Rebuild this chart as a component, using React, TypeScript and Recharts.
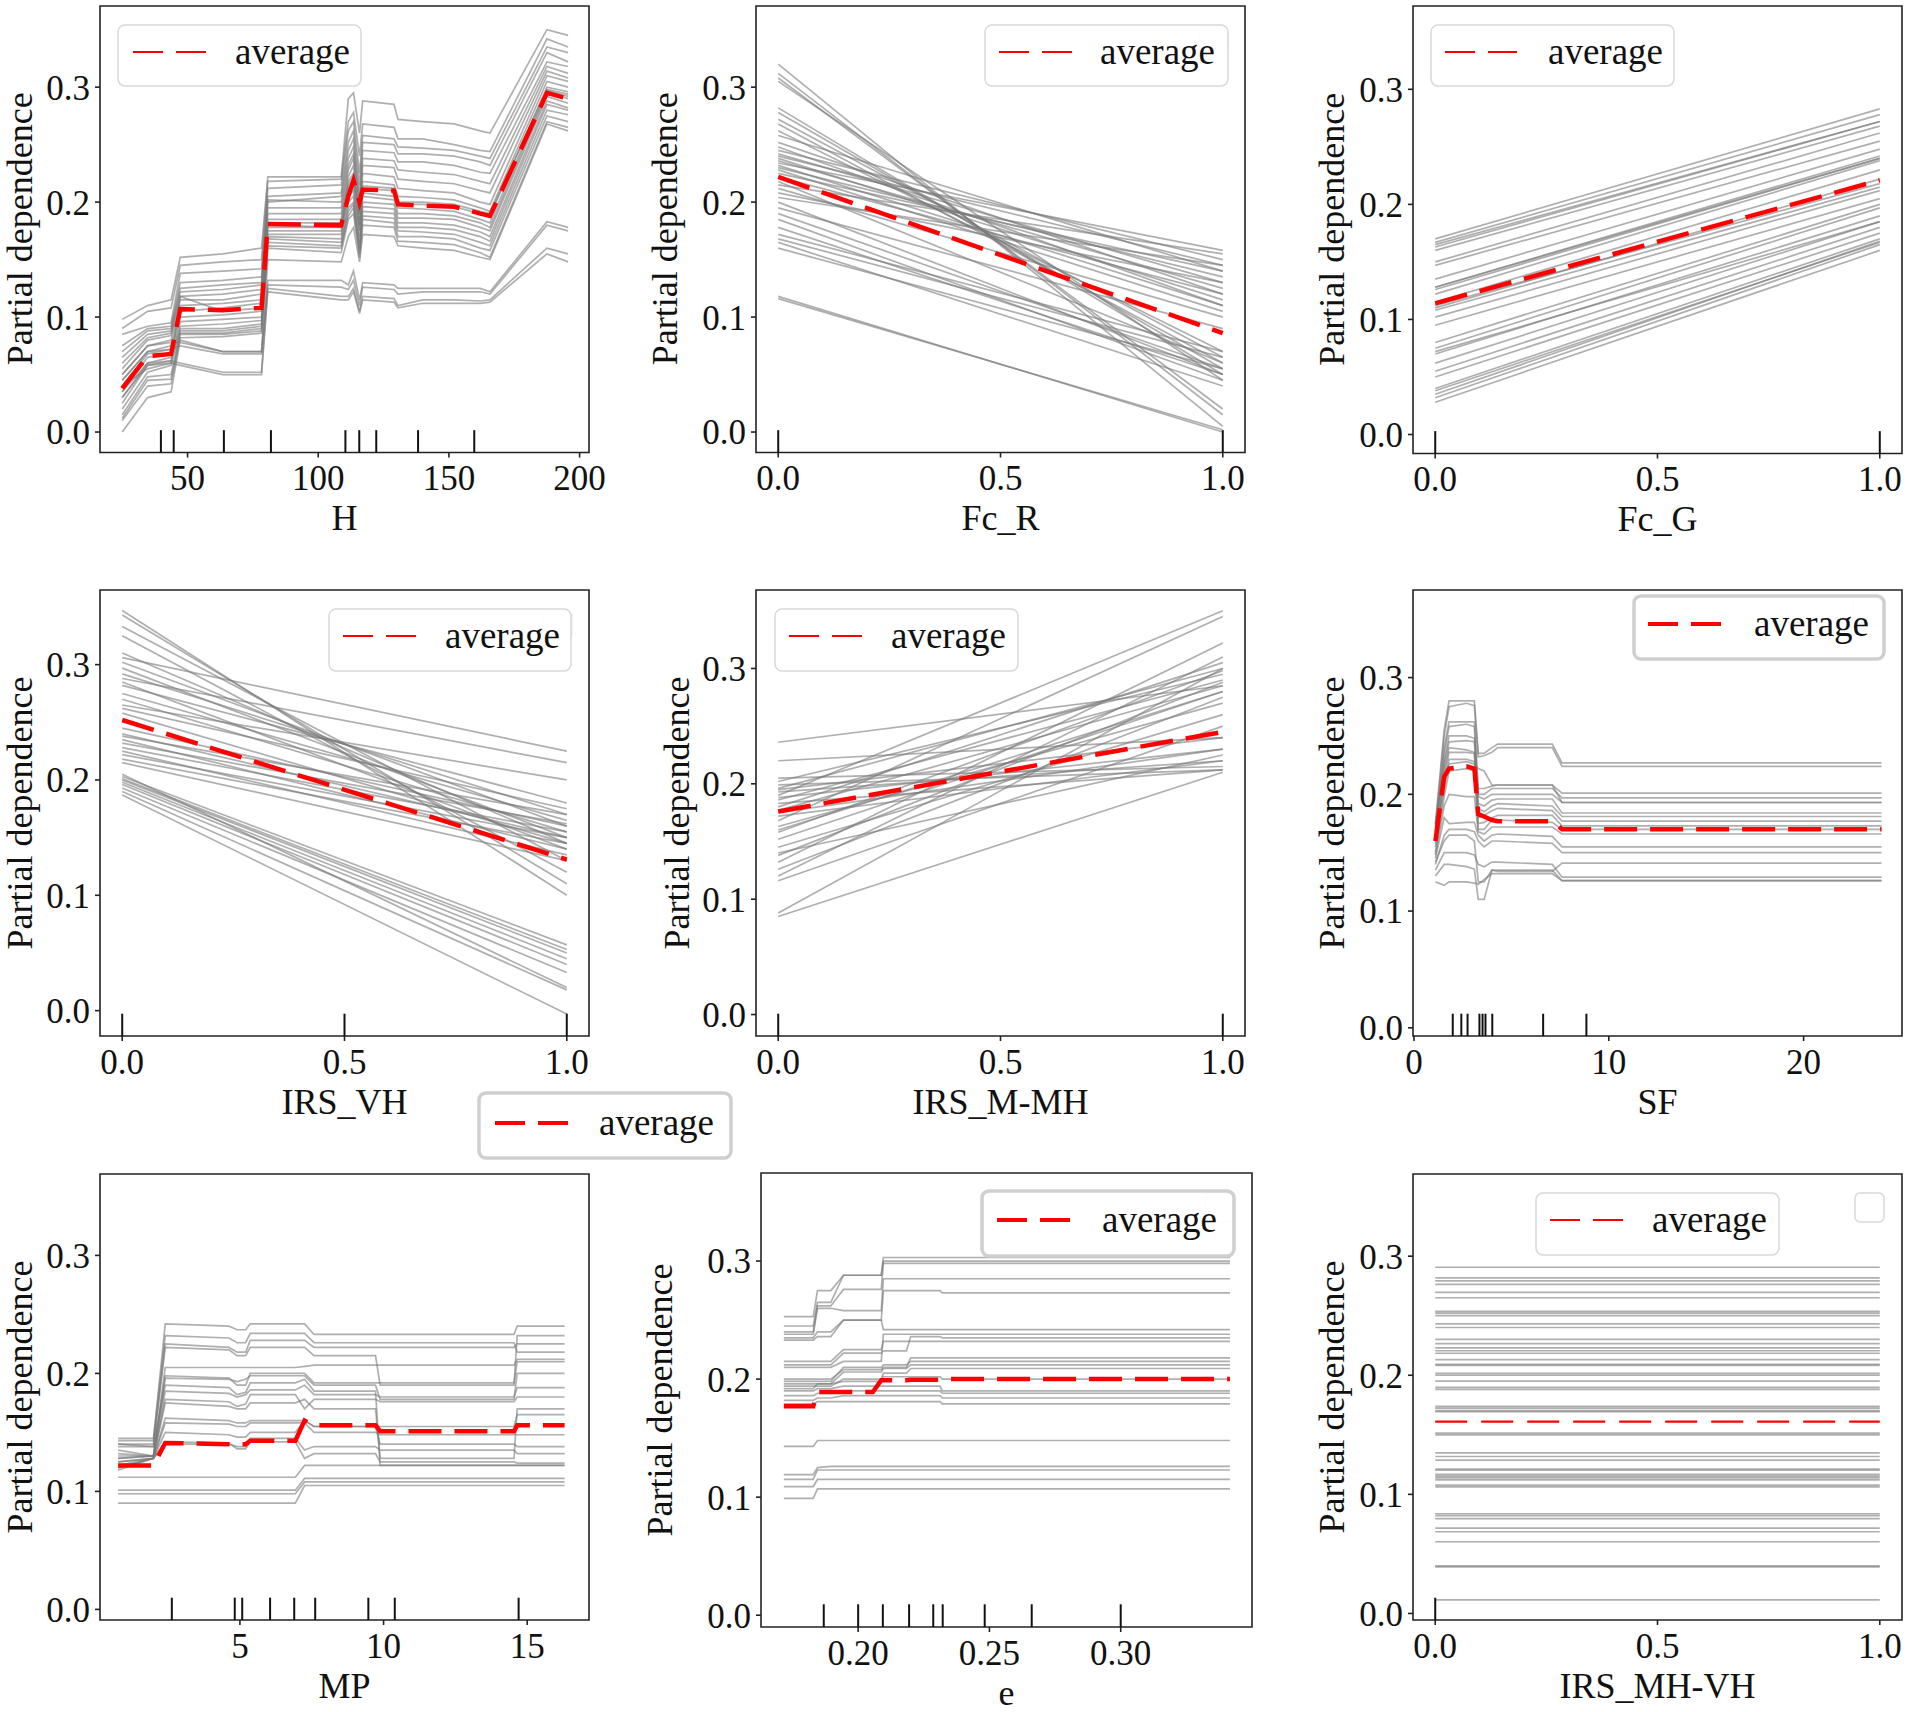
import React from 'react';
import { LineChart, Line, XAxis, YAxis, ReferenceLine, ReferenceArea } from 'recharts';

const FONT = "'Liberation Serif', 'Times New Roman', serif";
const ICE = '#7a7a7a';
const RED = '#ff0000';

// ---------- H ----------
const hGrid = [25, 34.7, 43.7, 47.2, 63.5, 78.3, 80.7, 108.8, 111.5, 113.5, 115.8, 117, 129, 130.5, 140, 152, 162, 165.7, 187.5, 195.6];
const hIce = [
  [0.098, 0.110, 0.115, 0.152, 0.155, 0.160, 0.222, 0.222, 0.290, 0.295, 0.260, 0.288, 0.285, 0.272, 0.270, 0.268, 0.262, 0.260, 0.350, 0.345],
  [0.090, 0.105, 0.108, 0.145, 0.148, 0.150, 0.218, 0.220, 0.270, 0.278, 0.240, 0.268, 0.265, 0.255, 0.255, 0.250, 0.245, 0.244, 0.342, 0.335],
  [0.085, 0.092, 0.095, 0.138, 0.140, 0.142, 0.212, 0.215, 0.262, 0.270, 0.225, 0.258, 0.255, 0.248, 0.247, 0.245, 0.240, 0.238, 0.335, 0.330],
  [0.075, 0.090, 0.092, 0.130, 0.132, 0.135, 0.205, 0.208, 0.252, 0.262, 0.215, 0.252, 0.250, 0.242, 0.242, 0.240, 0.235, 0.232, 0.330, 0.322],
  [0.070, 0.088, 0.090, 0.125, 0.128, 0.130, 0.200, 0.205, 0.245, 0.255, 0.205, 0.245, 0.243, 0.235, 0.235, 0.232, 0.226, 0.225, 0.322, 0.318],
  [0.065, 0.085, 0.088, 0.122, 0.124, 0.128, 0.202, 0.200, 0.238, 0.248, 0.200, 0.238, 0.236, 0.228, 0.226, 0.224, 0.218, 0.216, 0.318, 0.312],
  [0.060, 0.082, 0.086, 0.118, 0.120, 0.124, 0.195, 0.195, 0.232, 0.242, 0.195, 0.232, 0.230, 0.220, 0.218, 0.216, 0.210, 0.208, 0.314, 0.308],
  [0.055, 0.080, 0.084, 0.115, 0.115, 0.120, 0.190, 0.190, 0.228, 0.238, 0.190, 0.225, 0.222, 0.212, 0.210, 0.208, 0.200, 0.198, 0.310, 0.305],
  [0.050, 0.075, 0.080, 0.110, 0.112, 0.115, 0.185, 0.185, 0.222, 0.232, 0.185, 0.218, 0.215, 0.205, 0.204, 0.202, 0.195, 0.192, 0.305, 0.300],
  [0.045, 0.070, 0.075, 0.105, 0.108, 0.112, 0.182, 0.182, 0.218, 0.225, 0.180, 0.212, 0.210, 0.198, 0.198, 0.196, 0.190, 0.188, 0.300, 0.296],
  [0.040, 0.068, 0.072, 0.100, 0.102, 0.105, 0.178, 0.178, 0.212, 0.220, 0.178, 0.208, 0.205, 0.195, 0.194, 0.192, 0.185, 0.182, 0.297, 0.292],
  [0.035, 0.065, 0.068, 0.096, 0.098, 0.100, 0.175, 0.175, 0.208, 0.215, 0.175, 0.205, 0.202, 0.190, 0.190, 0.188, 0.182, 0.178, 0.295, 0.290],
  [0.030, 0.060, 0.065, 0.092, 0.094, 0.097, 0.172, 0.172, 0.205, 0.210, 0.170, 0.200, 0.198, 0.186, 0.186, 0.185, 0.178, 0.175, 0.292, 0.286],
  [0.025, 0.058, 0.062, 0.090, 0.090, 0.094, 0.170, 0.168, 0.200, 0.205, 0.165, 0.196, 0.194, 0.182, 0.182, 0.180, 0.174, 0.170, 0.288, 0.282],
  [0.020, 0.052, 0.058, 0.088, 0.088, 0.092, 0.168, 0.165, 0.195, 0.200, 0.160, 0.192, 0.190, 0.178, 0.178, 0.176, 0.170, 0.166, 0.285, 0.280],
  [0.015, 0.048, 0.050, 0.086, 0.086, 0.090, 0.165, 0.162, 0.192, 0.198, 0.158, 0.188, 0.186, 0.175, 0.174, 0.172, 0.165, 0.162, 0.280, 0.276],
  [0.012, 0.045, 0.046, 0.085, 0.085, 0.088, 0.162, 0.160, 0.188, 0.195, 0.155, 0.185, 0.182, 0.170, 0.170, 0.168, 0.160, 0.158, 0.275, 0.270],
  [0.010, 0.040, 0.042, 0.082, 0.083, 0.086, 0.160, 0.156, 0.185, 0.190, 0.152, 0.180, 0.178, 0.166, 0.165, 0.163, 0.156, 0.152, 0.270, 0.265],
  [0.000, 0.030, 0.035, 0.080, 0.070, 0.070, 0.150, 0.148, 0.170, 0.178, 0.148, 0.172, 0.170, 0.162, 0.160, 0.158, 0.152, 0.150, 0.268, 0.262],
  [0.040, 0.055, 0.060, 0.118, 0.105, 0.108, 0.180, 0.178, 0.215, 0.222, 0.190, 0.214, 0.212, 0.200, 0.200, 0.198, 0.192, 0.190, 0.298, 0.294],
  [0.050, 0.075, 0.078, 0.078, 0.070, 0.070, 0.132, 0.132, 0.128, 0.140, 0.115, 0.130, 0.128, 0.125, 0.125, 0.125, 0.125, 0.122, 0.183, 0.178],
  [0.045, 0.070, 0.072, 0.075, 0.068, 0.068, 0.128, 0.126, 0.124, 0.132, 0.110, 0.126, 0.124, 0.120, 0.122, 0.122, 0.122, 0.120, 0.180, 0.175],
  [0.035, 0.060, 0.062, 0.060, 0.052, 0.052, 0.125, 0.118, 0.118, 0.125, 0.105, 0.118, 0.116, 0.110, 0.115, 0.115, 0.114, 0.115, 0.160, 0.155],
  [0.030, 0.058, 0.060, 0.058, 0.050, 0.050, 0.122, 0.115, 0.115, 0.122, 0.103, 0.115, 0.113, 0.108, 0.112, 0.112, 0.112, 0.113, 0.155, 0.148],
];
const hAverage = [0.038, 0.066, 0.068, 0.107, 0.106, 0.108, 0.181, 0.180, 0.205, 0.219, 0.200, 0.211, 0.210, 0.198, 0.197, 0.196, 0.190, 0.188, 0.295, 0.290];
const hDeciles = [39.8, 44.7, 63.9, 81.9, 110.4, 115.7, 122.2, 138.2, 159.7];

// ---------- Fc_R ----------
const unitGrid = [0, 1];
const fcRStart = [0.320, 0.312, 0.308, 0.305, 0.282, 0.278, 0.272, 0.268, 0.262, 0.258, 0.252, 0.248, 0.245, 0.242, 0.240, 0.238, 0.236, 0.234, 0.232, 0.230, 0.228, 0.225, 0.222, 0.218, 0.215, 0.212, 0.208, 0.204, 0.200, 0.195, 0.190, 0.185, 0.178, 0.172, 0.168, 0.165, 0.160, 0.118, 0.116];
const fcREnd = [0.005, 0.015, 0.020, 0.045, 0.050, 0.055, 0.065, 0.060, 0.070, 0.140, 0.120, 0.110, 0.150, 0.130, 0.145, 0.115, 0.125, 0.158, 0.110, 0.135, 0.105, 0.140, 0.120, 0.060, 0.155, 0.100, 0.130, 0.145, 0.050, 0.090, 0.055, 0.045, 0.050, 0.070, 0.065, 0.040, 0.055, 0.000, 0.002];
const fcRAverage = [0.222, 0.086];

// ---------- Fc_G ----------
const fcGStart = [0.170, 0.167, 0.163, 0.160, 0.150, 0.147, 0.135, 0.128, 0.126, 0.122, 0.115, 0.110, 0.108, 0.102, 0.095, 0.080, 0.075, 0.070, 0.062, 0.055, 0.050, 0.040, 0.035, 0.032, 0.028, 0.165, 0.128, 0.072, 0.038, 0.112];
const fcGEnd = [0.283, 0.278, 0.272, 0.268, 0.262, 0.255, 0.248, 0.242, 0.240, 0.238, 0.230, 0.222, 0.215, 0.212, 0.205, 0.200, 0.197, 0.190, 0.185, 0.180, 0.175, 0.170, 0.168, 0.165, 0.160, 0.272, 0.240, 0.185, 0.167, 0.218];
const fcGAverage = [0.114, 0.221];

// ---------- IRS_VH ----------
const vhStart = [0.347, 0.343, 0.333, 0.325, 0.310, 0.306, 0.302, 0.297, 0.292, 0.288, 0.285, 0.282, 0.275, 0.270, 0.265, 0.262, 0.258, 0.245, 0.240, 0.235, 0.228, 0.225, 0.222, 0.218, 0.215, 0.232, 0.238, 0.203, 0.201, 0.200, 0.198, 0.196, 0.193, 0.205, 0.190, 0.187];
const vhEnd = [0.100, 0.110, 0.130, 0.120, 0.145, 0.225, 0.160, 0.150, 0.170, 0.215, 0.140, 0.180, 0.165, 0.155, 0.200, 0.175, 0.145, 0.160, 0.150, 0.140, 0.155, 0.135, 0.150, 0.145, 0.130, 0.162, 0.170, 0.057, 0.053, 0.050, 0.045, 0.040, 0.033, 0.020, 0.018, -0.003];
const vhAverage = [0.252, 0.131];
const vhDeciles = [0, 0.5, 1];

// ---------- IRS_M-MH ----------
const mmhStart = [0.236, 0.220, 0.205, 0.202, 0.199, 0.196, 0.193, 0.190, 0.188, 0.186, 0.183, 0.180, 0.177, 0.172, 0.168, 0.163, 0.158, 0.152, 0.145, 0.138, 0.132, 0.126, 0.120, 0.116, 0.088, 0.085, 0.175, 0.195, 0.140, 0.160];
const mmhEnd = [0.285, 0.240, 0.215, 0.295, 0.212, 0.300, 0.220, 0.350, 0.230, 0.290, 0.212, 0.305, 0.285, 0.220, 0.345, 0.270, 0.298, 0.280, 0.260, 0.288, 0.322, 0.275, 0.310, 0.250, 0.300, 0.210, 0.230, 0.240, 0.225, 0.280];
const mmhAverage = [0.176, 0.245];

// ---------- SF ----------
const sfGrid = [1.1, 1.55, 1.8, 2.7, 3.1, 3.3, 3.6, 4.0, 4.3, 7.1, 7.6, 24.0];
const sfIce = [
  [0.175, 0.255, 0.280, 0.280, 0.280, 0.235, 0.235, 0.240, 0.243, 0.243, 0.227, 0.227],
  [0.172, 0.250, 0.275, 0.278, 0.276, 0.232, 0.233, 0.236, 0.240, 0.240, 0.224, 0.224],
  [0.170, 0.240, 0.262, 0.262, 0.262, 0.205, 0.205, 0.207, 0.208, 0.208, 0.201, 0.201],
  [0.168, 0.235, 0.258, 0.260, 0.258, 0.200, 0.200, 0.205, 0.205, 0.205, 0.197, 0.197],
  [0.165, 0.228, 0.250, 0.250, 0.248, 0.198, 0.196, 0.200, 0.200, 0.200, 0.193, 0.193],
  [0.175, 0.225, 0.245, 0.246, 0.245, 0.192, 0.190, 0.195, 0.196, 0.196, 0.184, 0.184],
  [0.160, 0.220, 0.240, 0.238, 0.236, 0.188, 0.185, 0.190, 0.192, 0.190, 0.181, 0.181],
  [0.158, 0.215, 0.236, 0.236, 0.235, 0.180, 0.182, 0.186, 0.188, 0.186, 0.177, 0.177],
  [0.155, 0.205, 0.230, 0.230, 0.228, 0.175, 0.176, 0.180, 0.182, 0.182, 0.173, 0.173],
  [0.150, 0.198, 0.220, 0.222, 0.220, 0.170, 0.170, 0.178, 0.178, 0.176, 0.170, 0.170],
  [0.148, 0.190, 0.200, 0.198, 0.198, 0.168, 0.166, 0.172, 0.172, 0.172, 0.166, 0.166],
  [0.145, 0.180, 0.175, 0.176, 0.176, 0.165, 0.160, 0.165, 0.166, 0.164, 0.155, 0.155],
  [0.140, 0.165, 0.170, 0.170, 0.168, 0.160, 0.155, 0.160, 0.160, 0.158, 0.150, 0.150],
  [0.142, 0.160, 0.165, 0.165, 0.160, 0.125, 0.125, 0.135, 0.135, 0.135, 0.126, 0.126],
  [0.135, 0.150, 0.150, 0.150, 0.148, 0.140, 0.138, 0.142, 0.142, 0.140, 0.129, 0.129],
  [0.130, 0.140, 0.140, 0.138, 0.136, 0.110, 0.110, 0.135, 0.134, 0.134, 0.141, 0.141],
  [0.125, 0.122, 0.125, 0.125, 0.124, 0.123, 0.127, 0.132, 0.132, 0.132, 0.126, 0.126],
  [0.162, 0.210, 0.226, 0.228, 0.226, 0.222, 0.220, 0.208, 0.208, 0.208, 0.193, 0.193],
];
const sfAverage = [0.160, 0.215, 0.222, 0.224, 0.222, 0.183, 0.181, 0.178, 0.177, 0.177, 0.170, 0.170];
const sfDeciles = [1.99, 2.43, 2.75, 3.36, 3.52, 3.67, 4.02, 6.63, 8.85];

// ---------- MP ----------
const mpGrid = [0.76, 1.99, 2.4, 4.62, 4.9, 5.2, 5.36, 6.93, 7.25, 7.58, 9.72, 9.88, 14.54, 14.65, 16.3];
const mpIce = [
  [0.143, 0.143, 0.242, 0.240, 0.237, 0.237, 0.242, 0.242, 0.242, 0.233, 0.233, 0.233, 0.233, 0.240, 0.240],
  [0.140, 0.140, 0.225, 0.222, 0.218, 0.218, 0.228, 0.228, 0.228, 0.222, 0.222, 0.222, 0.222, 0.225, 0.225],
  [0.138, 0.138, 0.222, 0.220, 0.215, 0.215, 0.222, 0.222, 0.222, 0.215, 0.215, 0.190, 0.190, 0.232, 0.232],
  [0.135, 0.130, 0.205, 0.205, 0.205, 0.205, 0.205, 0.205, 0.206, 0.207, 0.207, 0.207, 0.207, 0.212, 0.212],
  [0.132, 0.130, 0.198, 0.196, 0.190, 0.190, 0.200, 0.200, 0.200, 0.192, 0.192, 0.192, 0.192, 0.210, 0.210],
  [0.130, 0.130, 0.196, 0.195, 0.193, 0.195, 0.198, 0.198, 0.198, 0.190, 0.190, 0.178, 0.178, 0.200, 0.200],
  [0.128, 0.130, 0.185, 0.183, 0.180, 0.182, 0.186, 0.186, 0.190, 0.182, 0.182, 0.180, 0.180, 0.188, 0.188],
  [0.128, 0.130, 0.178, 0.176, 0.172, 0.174, 0.182, 0.182, 0.170, 0.178, 0.178, 0.176, 0.176, 0.180, 0.180],
  [0.125, 0.128, 0.175, 0.172, 0.170, 0.170, 0.175, 0.175, 0.178, 0.170, 0.170, 0.128, 0.128, 0.170, 0.170],
  [0.125, 0.128, 0.162, 0.160, 0.158, 0.158, 0.160, 0.160, 0.160, 0.155, 0.155, 0.155, 0.155, 0.165, 0.165],
  [0.120, 0.128, 0.158, 0.157, 0.155, 0.155, 0.158, 0.158, 0.158, 0.150, 0.150, 0.148, 0.148, 0.148, 0.148],
  [0.120, 0.128, 0.150, 0.148, 0.146, 0.146, 0.150, 0.150, 0.160, 0.155, 0.155, 0.140, 0.140, 0.138, 0.138],
  [0.118, 0.128, 0.140, 0.140, 0.138, 0.138, 0.145, 0.145, 0.135, 0.138, 0.138, 0.135, 0.135, 0.132, 0.132],
  [0.122, 0.128, 0.142, 0.141, 0.136, 0.136, 0.142, 0.142, 0.128, 0.132, 0.132, 0.125, 0.125, 0.124, 0.124],
  [0.112, 0.112, 0.112, 0.112, 0.112, 0.112, 0.112, 0.112, 0.122, 0.122, 0.122, 0.122, 0.122, 0.122, 0.122],
  [0.101, 0.101, 0.101, 0.101, 0.101, 0.101, 0.101, 0.101, 0.111, 0.111, 0.111, 0.111, 0.111, 0.111, 0.111],
  [0.098, 0.098, 0.098, 0.098, 0.098, 0.098, 0.098, 0.098, 0.108, 0.108, 0.108, 0.108, 0.108, 0.108, 0.108],
  [0.090, 0.090, 0.090, 0.090, 0.090, 0.090, 0.090, 0.090, 0.105, 0.105, 0.105, 0.105, 0.105, 0.105, 0.105],
  [0.145, 0.145, 0.232, 0.230, 0.226, 0.226, 0.234, 0.234, 0.234, 0.226, 0.226, 0.226, 0.226, 0.218, 0.218],
  [0.140, 0.138, 0.190, 0.188, 0.182, 0.184, 0.192, 0.192, 0.195, 0.185, 0.185, 0.122, 0.122, 0.122, 0.122],
];
const mpAverage = [0.122, 0.122, 0.141, 0.140, 0.140, 0.140, 0.143, 0.143, 0.160, 0.156, 0.156, 0.151, 0.151, 0.156, 0.156];
const mpDeciles = [2.63, 4.82, 5.08, 6.05, 6.89, 7.62, 9.47, 10.39, 14.7];

// ---------- e ----------
const eGrid = [0.1717, 0.1829, 0.1845, 0.1896, 0.1944, 0.2056, 0.2088, 0.2096, 0.2184, 0.22, 0.2312, 0.232, 0.3416];
const eIce = [
  [0.253, 0.253, 0.275, 0.275, 0.288, 0.288, 0.288, 0.303, 0.303, 0.303, 0.303, 0.303, 0.303],
  [0.245, 0.245, 0.265, 0.265, 0.288, 0.288, 0.288, 0.300, 0.300, 0.300, 0.300, 0.300, 0.300],
  [0.240, 0.240, 0.262, 0.262, 0.276, 0.276, 0.276, 0.298, 0.298, 0.298, 0.298, 0.298, 0.298],
  [0.238, 0.238, 0.260, 0.260, 0.258, 0.258, 0.258, 0.285, 0.285, 0.285, 0.285, 0.285, 0.285],
  [0.235, 0.235, 0.240, 0.240, 0.250, 0.250, 0.250, 0.275, 0.275, 0.275, 0.275, 0.273, 0.273],
  [0.233, 0.233, 0.236, 0.236, 0.250, 0.250, 0.250, 0.242, 0.242, 0.242, 0.242, 0.242, 0.242],
  [0.212, 0.212, 0.212, 0.212, 0.222, 0.222, 0.222, 0.224, 0.224, 0.236, 0.236, 0.235, 0.235],
  [0.210, 0.210, 0.210, 0.210, 0.215, 0.215, 0.215, 0.238, 0.238, 0.238, 0.238, 0.238, 0.238],
  [0.215, 0.215, 0.215, 0.215, 0.225, 0.225, 0.225, 0.232, 0.232, 0.232, 0.232, 0.232, 0.232],
  [0.200, 0.200, 0.200, 0.200, 0.208, 0.208, 0.208, 0.210, 0.210, 0.218, 0.218, 0.218, 0.218],
  [0.198, 0.198, 0.198, 0.198, 0.210, 0.210, 0.210, 0.212, 0.212, 0.215, 0.215, 0.215, 0.215],
  [0.196, 0.196, 0.196, 0.196, 0.206, 0.206, 0.206, 0.209, 0.209, 0.212, 0.212, 0.212, 0.212],
  [0.194, 0.194, 0.194, 0.194, 0.200, 0.200, 0.200, 0.205, 0.205, 0.209, 0.209, 0.209, 0.209],
  [0.192, 0.192, 0.196, 0.196, 0.198, 0.198, 0.198, 0.202, 0.202, 0.202, 0.202, 0.200, 0.200],
  [0.190, 0.190, 0.192, 0.192, 0.194, 0.194, 0.194, 0.194, 0.194, 0.194, 0.194, 0.190, 0.190],
  [0.186, 0.186, 0.188, 0.188, 0.190, 0.190, 0.190, 0.190, 0.190, 0.190, 0.190, 0.188, 0.188],
  [0.182, 0.182, 0.184, 0.184, 0.186, 0.186, 0.186, 0.186, 0.186, 0.186, 0.186, 0.184, 0.184],
  [0.179, 0.179, 0.181, 0.181, 0.181, 0.181, 0.181, 0.181, 0.181, 0.181, 0.181, 0.179, 0.179],
  [0.143, 0.143, 0.148, 0.148, 0.148, 0.148, 0.148, 0.148, 0.148, 0.148, 0.148, 0.148, 0.148],
  [0.119, 0.119, 0.125, 0.126, 0.126, 0.126, 0.126, 0.126, 0.126, 0.126, 0.126, 0.126, 0.126],
  [0.115, 0.115, 0.123, 0.123, 0.123, 0.123, 0.123, 0.123, 0.123, 0.123, 0.123, 0.123, 0.123],
  [0.109, 0.109, 0.115, 0.115, 0.115, 0.115, 0.115, 0.115, 0.115, 0.115, 0.115, 0.115, 0.115],
  [0.099, 0.099, 0.107, 0.107, 0.107, 0.107, 0.107, 0.107, 0.107, 0.107, 0.107, 0.107, 0.107],
];
const eAverage = [0.177, 0.177, 0.189, 0.189, 0.189, 0.189, 0.199, 0.199, 0.199, 0.1995, 0.1995, 0.2, 0.2];
const eDeciles = [0.1869, 0.2, 0.2094, 0.2194, 0.2286, 0.2322, 0.2482, 0.2661, 0.3];

// ---------- IRS_MH-VH ----------
const mhvhLevels = [0.2907, 0.2817, 0.2793, 0.2763, 0.2696, 0.2651, 0.2537, 0.2522, 0.2501, 0.2432, 0.2401, 0.2302, 0.2266, 0.223, 0.2206, 0.2185, 0.2131, 0.2092, 0.2083, 0.2017, 0.2001, 0.195, 0.1899, 0.1881, 0.1739, 0.1724, 0.1703, 0.1694, 0.1514, 0.1499, 0.1348, 0.1318, 0.1288, 0.1213, 0.1204, 0.1168, 0.1153, 0.1138, 0.1122, 0.1077, 0.1062, 0.0837, 0.0822, 0.0797, 0.0716, 0.0686, 0.0602, 0.04, 0.0391, 0.0114];
const mhvhAverage = [0.161, 0.161];

const pairs = (a: number[], b: number[]) => a.map((v, i) => [v, b[i]]);
const fmt1 = (v: number) => v.toFixed(1);
const fmt2 = (v: number) => v.toFixed(2);
const fmt0 = (v: number) => String(v);

type Spec = {
  label: string;
  frame: [number, number, number, number];
  xDomain: [number, number];
  yDomain: [number, number];
  xTicks: number[];
  xFmt: (v: number) => string;
  grid: number[];
  ice: number[][];
  average: number[];
  deciles: number[];
  avgWidth: number;
  avgDash: string;
  yLabelX: number;
};

const panels: Spec[] = [
  { label: 'H', frame: [100, 5.5, 589, 452], xDomain: [16.5, 203.6], yDomain: [-0.0178, 0.3706], xTicks: [50, 100, 150, 200], xFmt: fmt0, grid: hGrid, ice: hIce, average: hAverage, deciles: hDeciles, avgWidth: 4.5, avgDash: '33 13', yLabelX: 20 },
  { label: 'Fc_R', frame: [756, 5.5, 1245, 452], xDomain: [-0.05, 1.05], yDomain: [-0.0178, 0.3706], xTicks: [0, 0.5, 1], xFmt: fmt1, grid: unitGrid, ice: pairs(fcRStart, fcREnd), average: fcRAverage, deciles: [0, 1], avgWidth: 4.5, avgDash: '33 13', yLabelX: 665 },
  { label: 'Fc_G', frame: [1413, 5.5, 1902, 453], xDomain: [-0.05, 1.05], yDomain: [-0.0165, 0.3724], xTicks: [0, 0.5, 1], xFmt: fmt1, grid: unitGrid, ice: pairs(fcGStart, fcGEnd), average: fcGAverage, deciles: [0, 1], avgWidth: 4.5, avgDash: '33 13', yLabelX: 1332 },
  { label: 'IRS_VH', frame: [100, 590, 589, 1036], xDomain: [-0.05, 1.05], yDomain: [-0.022, 0.3647], xTicks: [0, 0.5, 1], xFmt: fmt1, grid: unitGrid, ice: pairs(vhStart, vhEnd), average: vhAverage, deciles: vhDeciles, avgWidth: 4.5, avgDash: '33 13', yLabelX: 20 },
  { label: 'IRS_M-MH', frame: [756, 590, 1245, 1036], xDomain: [-0.05, 1.05], yDomain: [-0.0186, 0.368], xTicks: [0, 0.5, 1], xFmt: fmt1, grid: unitGrid, ice: pairs(mmhStart, mmhEnd), average: mmhAverage, deciles: [0, 1], avgWidth: 4.5, avgDash: '33 13', yLabelX: 677 },
  { label: 'SF', frame: [1413, 590, 1902, 1036], xDomain: [-0.05, 25.05], yDomain: [-0.007, 0.375], xTicks: [0, 10, 20], xFmt: fmt0, grid: sfGrid, ice: sfIce, average: sfAverage, deciles: sfDeciles, avgWidth: 4.5, avgDash: '33 13', yLabelX: 1332 },
  { label: 'MP', frame: [100, 1174, 589, 1620], xDomain: [0.13, 17.15], yDomain: [-0.009, 0.369], xTicks: [5, 10, 15], xFmt: fmt0, grid: mpGrid, ice: mpIce, average: mpAverage, deciles: mpDeciles, avgWidth: 4.5, avgDash: '33 13', yLabelX: 20 },
  { label: 'e', frame: [761, 1173, 1252, 1627], xDomain: [0.163, 0.35], yDomain: [-0.01, 0.3746], xTicks: [0.2, 0.25, 0.3], xFmt: fmt2, grid: eGrid, ice: eIce, average: eAverage, deciles: eDeciles, avgWidth: 4.5, avgDash: '33 13', yLabelX: 660 },
  { label: 'IRS_MH-VH', frame: [1413, 1174, 1902, 1620], xDomain: [-0.05, 1.05], yDomain: [-0.0055, 0.369], xTicks: [0, 0.5, 1], xFmt: fmt1, grid: unitGrid, ice: mhvhLevels.map((v) => [v, v]), average: mhvhAverage, deciles: [0], avgWidth: 2.2, avgDash: '32 14', yLabelX: 1332 },
];

type Leg = { x: number; y: number; w: number; h: number; d1: number; d2: number; dy: number; tx: number; ty: number; thick?: boolean; dashW: number; ghost?: [number, number] };
const legends: Leg[] = [
  { x: 118, y: 25, w: 243, h: 61, d1: 133, d2: 206, dy: 52, tx: 235, ty: 64, dashW: 2 },
  { x: 985, y: 25, w: 243, h: 61, d1: 999, d2: 1072, dy: 52, tx: 1100, ty: 64, dashW: 2, ghost: [1199, 27] },
  { x: 1431, y: 25, w: 243, h: 61, d1: 1445, d2: 1517, dy: 52, tx: 1548, ty: 64, dashW: 2 },
  { x: 329, y: 609, w: 242, h: 62, d1: 343, d2: 416, dy: 636, tx: 445, ty: 648, dashW: 2, ghost: [543, 611] },
  { x: 775, y: 609, w: 243, h: 62, d1: 789, d2: 862, dy: 636, tx: 891, ty: 648, dashW: 2 },
  { x: 1634, y: 596, w: 250, h: 63, d1: 1648, d2: 1723, dy: 624, tx: 1754, ty: 636, thick: true, dashW: 4, ghost: [1853, 597] },
  { x: 479, y: 1093, w: 252, h: 65, d1: 495, d2: 569, dy: 1123, tx: 599, ty: 1135, thick: true, dashW: 4 },
  { x: 982, y: 1191, w: 252, h: 65, d1: 997, d2: 1072, dy: 1220, tx: 1102, ty: 1232, thick: true, dashW: 4, ghost: [1205, 1193] },
  { x: 1536, y: 1193, w: 243, h: 62, d1: 1550, d2: 1623, dy: 1220, tx: 1652, ty: 1232, dashW: 2 },
];

const tickStyle = { fontSize: 35, fill: '#111', fontFamily: FONT };
const tickLine = { stroke: '#222', strokeWidth: 1.6 };

function Panel({ p }: { p: Spec }) {
  const [L, T, R, B] = p.frame;
  const w = R - L;
  const h = B - T;
  const rows = p.grid.map((x, i) => {
    const row: Record<string, number> = { x, avg: p.average[i] };
    p.ice.forEach((line, j) => {
      row['l' + j] = line[i];
    });
    return row;
  });
  const [y0, y1] = p.yDomain;
  const rugTop = y0 + 0.05 * (y1 - y0);
  return (
    <div style={{ position: 'absolute', left: L - 100, top: T - 10, fontFamily: FONT }}>
      <LineChart width={w + 120} height={h + 80} data={rows} margin={{ top: 10, right: 20, bottom: 0, left: 0 }}>
        <XAxis dataKey="x" type="number" domain={p.xDomain} allowDataOverflow ticks={p.xTicks} tickFormatter={p.xFmt} interval={0} height={70} axisLine={false} tickLine={tickLine} tickSize={5} tickMargin={8} tick={tickStyle} />
        <YAxis type="number" domain={p.yDomain} allowDataOverflow ticks={[0, 0.1, 0.2, 0.3]} tickFormatter={fmt1} interval={0} width={100} axisLine={false} tickLine={tickLine} tickSize={5} tickMargin={5} tick={tickStyle} />
        {p.ice.map((_, j) => (
          <Line key={j} dataKey={'l' + j} type="linear" stroke={ICE} strokeOpacity={0.6} strokeWidth={1.7} dot={false} activeDot={false} isAnimationActive={false} />
        ))}
        <Line dataKey="avg" type="linear" stroke={RED} strokeWidth={p.avgWidth} strokeDasharray={p.avgDash} dot={false} activeDot={false} isAnimationActive={false} />
        {p.deciles.map((d, k) => (
          <ReferenceLine key={'r' + k} segment={[{ x: d, y: y0 }, { x: d, y: rugTop }]} stroke="#111" strokeWidth={2} ifOverflow="visible" />
        ))}
        <ReferenceArea x1={p.xDomain[0]} x2={p.xDomain[1]} y1={y0} y2={y1} fill="none" stroke="#222" strokeWidth={1.6} ifOverflow="visible" />
      </LineChart>
    </div>
  );
}

function Overlay() {
  return (
    <svg width={1911} height={1712} style={{ position: 'absolute', left: 0, top: 0, pointerEvents: 'none' }}>
      {panels.map((p) => {
        const [L, T, R, B] = p.frame;
        const cy = (T + B) / 2;
        return (
          <g key={p.label} fontFamily={FONT} fill="#111" fontSize={36}>
            <text x={p.yLabelX} y={cy} textAnchor="middle" dominantBaseline="central" transform={`rotate(-90 ${p.yLabelX} ${cy})`}>
              Partial dependence
            </text>
            <text x={(L + R) / 2} y={B + 78} textAnchor="middle">
              {p.label}
            </text>
          </g>
        );
      })}
      {legends.map((g, i) => (
        <g key={'lg' + i}>
          {g.ghost && <rect x={g.ghost[0]} y={g.ghost[1]} width={29} height={29} rx={5} fill="none" stroke="#ececec" strokeWidth={1.2} />}
          <rect x={g.x} y={g.y} width={g.w} height={g.h} rx={7} fill="#fff" fillOpacity={0.8} stroke={g.thick ? '#cfcfcf' : '#d9d9d9'} strokeWidth={g.thick ? 3.5 : 1.5} />
          <line x1={g.d1} y1={g.dy} x2={g.d2} y2={g.dy} stroke={RED} strokeWidth={g.dashW} strokeDasharray="30 13" />
          <text x={g.tx} y={g.ty} fontFamily={FONT} fontSize={37} fill="#111">
            average
          </text>
        </g>
      ))}
      <rect x={1855} y={1193} width={29} height={29} rx={5} fill="#fff" stroke="#d9d9d9" strokeWidth={1.5} />
    </svg>
  );
}

export default function App() {
  return (
    <div style={{ position: 'absolute', left: 0, top: 0, width: 1911, height: 1712, background: '#fff', fontFamily: FONT }}>
      {panels.map((p) => (
        <Panel key={p.label} p={p} />
      ))}
      <Overlay />
    </div>
  );
}
